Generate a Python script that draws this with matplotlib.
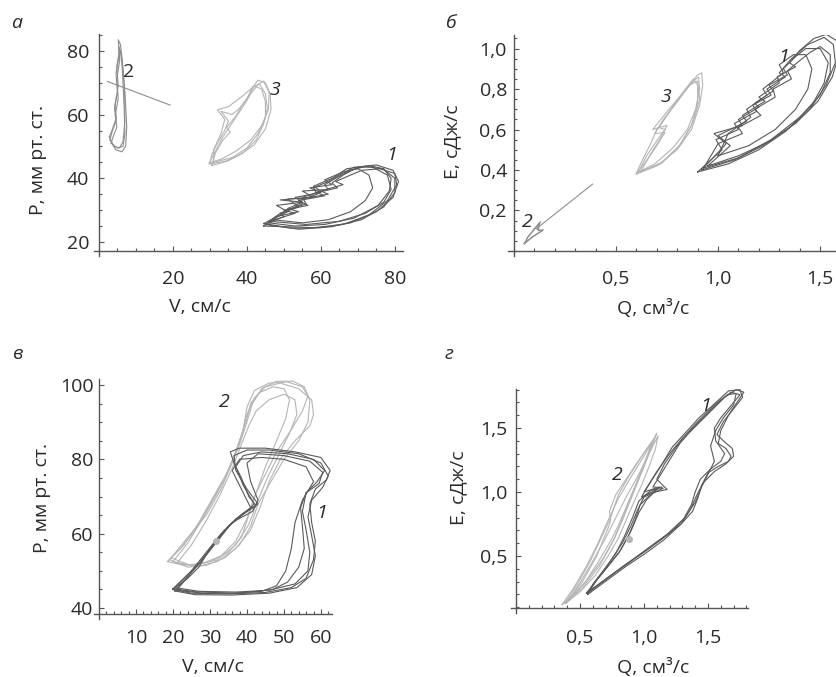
import matplotlib
matplotlib.use("Agg")
import matplotlib.pyplot as plt
from matplotlib.ticker import FixedLocator, MultipleLocator

plt.rcParams['font.family'] = ['Open Sans', 'DejaVu Sans']

W, H = 837, 677
DARK = '#5a5a5a'
LIGHT = '#b5b5b5'
MID = '#8e8e8e'
AXC = '#555555'
TXT = '#2a2a2a'
FS = 14

# ---- panel a: P(V) ----
a1_v = [[45, 52, 60, 68, 75, 79.5, 81, 79.5, 75, 70, 66, 63, 64.5, 59, 61, 54, 56.5, 50, 53, 47.5, 45],
        [46, 53, 61, 69, 75.5, 78.5, 79, 77, 73, 68, 64, 61, 62, 55, 58, 51, 54, 49, 50, 46],
        [44.5, 54, 63, 71, 77, 80, 80, 77, 72, 67, 65, 61, 63, 57, 60, 53, 55, 48, 51, 44.5],
        [47, 55, 62, 68, 72, 74, 73, 70, 66, 63, 58, 60, 55, 56, 51, 47],
        [46, 56, 65, 72, 77, 79, 78, 74, 69, 65, 62, 58, 59, 54, 55, 49, 46],
        [44.5, 50, 58, 66, 73, 78, 80.5, 80, 76, 71, 67, 64, 66, 60, 62, 57, 49, 55, 51, 54, 48, 44.5]]
a1_p = [[25.5, 24.3, 24.5, 26, 29.5, 34, 39, 42.5, 44.2, 43.5, 41, 38.5, 37, 35.5, 34.5, 33, 31.5, 30, 29, 27, 25.5],
        [26, 25, 25.5, 27.5, 31.5, 36, 40, 43, 44, 42.5, 40, 38, 36.5, 36, 34, 33.5, 31, 29, 28, 26],
        [25.8, 24, 24.8, 27, 31, 35.5, 40, 42.8, 43.8, 43, 41.5, 39.5, 38, 37, 35.5, 34, 32.5, 31.5, 29.5, 25.8],
        [27, 26, 27, 29.5, 33, 37, 41, 43, 42, 40, 37.5, 36, 34, 32, 30, 27],
        [26.5, 25.5, 26.5, 29, 32.5, 36.5, 41, 43.5, 43.5, 41, 39, 37, 35, 33, 32, 29, 26.5],
        [25, 24.8, 24.5, 25.5, 28.5, 33, 38, 41.5, 43, 42.5, 40.5, 39, 38, 36, 35, 34, 33.2, 32.5, 30.5, 29.5, 28, 25]]

a3_v = [[30, 34, 38, 42, 45, 46.5, 46.3, 45, 43, 41.5, 40, 38, 36, 33, 35, 34, 32, 30.5, 30],
        [30.5, 35, 39, 42.5, 44.5, 45.5, 45, 43.5, 42, 40.5, 38.5, 37, 34.5, 35.5, 33.5, 31.5, 30.5],
        [29.8, 33, 37, 41, 44, 45.8, 46, 44.5, 43, 41, 39.5, 37.5, 35.5, 33.5, 31.5, 29.8],
        [31, 36, 40, 43, 45, 45, 44, 42, 39, 35, 32, 34, 33, 31, 31]]
a3_p = [[44.5, 45.3, 47.3, 50.5, 55.5, 61.5, 66.5, 70, 70.8, 68.5, 65, 62, 60, 61, 58, 55, 51, 47.5, 44.5],
        [44, 45.5, 48, 52, 57, 62, 66.5, 69.5, 69, 66, 62.5, 59.5, 56, 54.5, 52, 48, 44],
        [44.8, 46, 48.5, 52, 56.5, 61.5, 67, 70.5, 69.5, 66.5, 63.5, 60, 56.5, 53, 48.5, 44.8],
        [45, 46.5, 49.5, 54, 59, 64, 68, 69, 66, 62.5, 61.5, 58.5, 54, 49, 45]]

a2_v = [[3, 4.5, 6.2, 7.2, 7.5, 7.2, 6.8, 6.3, 5.8, 5.2, 5.5, 4.6, 5.0, 4.2, 4.6, 3.5, 3],
        [3.3, 5, 6.5, 7, 6.8, 6.5, 6.2, 5.8, 5.3, 5.6, 4.8, 5.2, 4.4, 4.8, 3.8, 3.3],
        [2.8, 4, 5.5, 6.5, 7, 7, 6.5, 6, 5.5, 4.8, 5.2, 4.3, 4.7, 3.5, 2.8]]
a2_p = [[52, 49, 48.3, 50, 56, 63, 70, 77, 82, 83.5, 79, 73, 67, 62, 58, 54.5, 52],
        [51, 49.5, 50, 54, 62, 70, 76, 80, 81.5, 77, 71, 65, 60, 56, 53, 51],
        [53, 50, 49.5, 51.5, 58, 66, 74, 79, 80, 75, 69, 63, 59, 55, 53]]
a2_line_v = [2.3, 19.2]
a2_line_p = [70.4, 63.0]

# ---- panel b: E(Q) ----
b1_q = [[0.9, 1.05, 1.2, 1.33, 1.45, 1.53, 1.575, 1.565, 1.52, 1.44, 1.36, 1.3, 1.33, 1.24, 1.26, 1.17, 1.19, 1.08, 1.1, 0.99, 1.02, 0.9],
        [0.92, 1.08, 1.22, 1.35, 1.46, 1.52, 1.54, 1.5, 1.43, 1.38, 1.32, 1.34, 1.25, 1.27, 1.18, 1.2, 1.1, 1.12, 0.98, 1.04, 0.92],
        [0.95, 1.1, 1.25, 1.38, 1.49, 1.56, 1.59, 1.58, 1.53, 1.47, 1.4, 1.35, 1.38, 1.29, 1.3, 1.2, 1.23, 1.12, 1.14, 1.0, 1.06, 0.95],
        [1.0, 1.15, 1.28, 1.38, 1.44, 1.46, 1.43, 1.37, 1.3, 1.32, 1.22, 1.24, 1.14, 1.16, 1.05, 1.0],
        [0.93, 1.1, 1.26, 1.4, 1.5, 1.55, 1.55, 1.5, 1.45, 1.4, 1.34, 1.36, 1.27, 1.28, 1.18, 1.21, 1.1, 1.12, 1.0, 0.93]]
b1_e = [[0.39, 0.43, 0.5, 0.59, 0.7, 0.82, 0.93, 1.02, 1.055, 1.02, 0.95, 0.88, 0.86, 0.8, 0.77, 0.72, 0.69, 0.63, 0.6, 0.55, 0.5, 0.39],
        [0.4, 0.45, 0.52, 0.61, 0.72, 0.83, 0.93, 1.0, 1.0, 0.96, 0.9, 0.87, 0.82, 0.79, 0.73, 0.71, 0.65, 0.62, 0.58, 0.53, 0.4],
        [0.42, 0.47, 0.54, 0.63, 0.74, 0.86, 0.96, 1.04, 1.07, 1.05, 0.99, 0.93, 0.91, 0.86, 0.83, 0.76, 0.74, 0.67, 0.64, 0.57, 0.52, 0.42],
        [0.47, 0.52, 0.6, 0.7, 0.8, 0.9, 0.97, 0.97, 0.92, 0.88, 0.8, 0.77, 0.7, 0.66, 0.58, 0.47],
        [0.41, 0.46, 0.55, 0.66, 0.77, 0.88, 0.97, 1.01, 0.98, 0.94, 0.89, 0.85, 0.8, 0.76, 0.7, 0.67, 0.61, 0.58, 0.53, 0.41]]

b3_q = [[0.6, 0.7, 0.8, 0.87, 0.91, 0.925, 0.92, 0.9, 0.86, 0.81, 0.77, 0.73, 0.69, 0.74, 0.7, 0.66, 0.6],
        [0.61, 0.72, 0.81, 0.87, 0.9, 0.9, 0.88, 0.84, 0.79, 0.75, 0.71, 0.74, 0.69, 0.65, 0.61],
        [0.6, 0.69, 0.78, 0.85, 0.89, 0.91, 0.905, 0.88, 0.83, 0.78, 0.74, 0.7, 0.67, 0.63, 0.6],
        [0.62, 0.73, 0.82, 0.88, 0.91, 0.9, 0.86, 0.81, 0.76, 0.68, 0.75, 0.72, 0.67, 0.62]]
b3_e = [[0.38, 0.42, 0.5, 0.6, 0.72, 0.82, 0.88, 0.87, 0.82, 0.75, 0.7, 0.64, 0.58, 0.585, 0.52, 0.46, 0.38],
        [0.39, 0.43, 0.52, 0.62, 0.73, 0.82, 0.85, 0.8, 0.73, 0.67, 0.61, 0.6, 0.53, 0.47, 0.39],
        [0.385, 0.43, 0.51, 0.6, 0.7, 0.8, 0.86, 0.84, 0.78, 0.71, 0.66, 0.6, 0.53, 0.45, 0.385],
        [0.39, 0.44, 0.53, 0.64, 0.75, 0.84, 0.82, 0.76, 0.7, 0.6, 0.62, 0.56, 0.48, 0.39]]

b2_q = [[0.05, 0.09, 0.14, 0.115, 0.13, 0.1, 0.07, 0.05],
        [0.055, 0.1, 0.145, 0.12, 0.125, 0.095, 0.065, 0.055]]
b2_e = [[0.035, 0.07, 0.1, 0.105, 0.145, 0.11, 0.07, 0.035],
        [0.04, 0.075, 0.105, 0.1, 0.135, 0.1, 0.065, 0.04]]
b2_line_q = [0.11, 0.385]
b2_line_e = [0.11, 0.33]

# ---- panel v: P(V) ----
c1_v = [[20, 25, 35, 45, 52, 56, 58, 58.5, 57.5, 57, 58.5, 61.5, 62.5, 60, 53, 45, 38, 35.5, 36.5, 38.5, 40.5, 42.5, 38.5, 34, 30, 27, 24, 20],
        [20.5, 27, 37, 46, 53, 56.5, 57, 56, 55, 56, 59, 61, 58, 51, 44, 39, 37, 39, 42, 40, 35, 31, 27, 23, 20.5],
        [21, 28, 38, 47, 51, 54, 55.5, 55, 54.5, 56, 59.5, 60.5, 57, 50, 43, 40, 41, 43, 41.5, 36, 32, 28, 24.5, 21],
        [20, 26, 36, 44, 48, 50.5, 52, 53, 55, 58, 56, 50, 44, 38, 36, 38.5, 41, 37, 33, 29, 25, 20],
        [20.5, 26, 36, 46, 53.5, 57.5, 58.5, 57.5, 56.5, 57.5, 60.5, 62, 60, 54, 46, 40, 36.5, 37, 40, 43, 39, 35, 31, 27.5, 24, 20.5]]
c1_p = [[45, 44, 43.8, 44.2, 45.5, 48, 53, 58, 63, 68, 72, 74.5, 77, 80.5, 82, 83, 83, 82, 79, 75, 70, 67.5, 65, 61, 56, 51, 48, 45],
        [45.5, 44.5, 44.3, 44.8, 46.5, 50, 55, 61, 66, 71, 74, 77, 80, 81.5, 82, 81, 78, 73, 68, 66, 62, 57, 52, 48, 45.5],
        [44.8, 44, 44, 45, 47, 51, 56, 62, 67, 71, 73.5, 76.5, 79.5, 81, 81.5, 79, 74, 69, 66, 63, 58, 53, 49, 44.8],
        [45.2, 44.4, 44, 44.5, 46, 50, 56, 63, 69, 74, 78, 80, 80.5, 80, 77, 72, 67, 64, 60, 55, 50, 45.2],
        [44.6, 43.6, 43.5, 44, 45.5, 49, 54, 59.5, 64.5, 69, 72.5, 75.5, 79, 81.5, 82.5, 82.5, 81, 77, 72, 68, 65.5, 62, 57, 52.5, 48.5, 44.6]]

c2_v = [[18.5, 22, 26, 30, 34, 37, 39, 40, 42, 46, 51, 55, 56.5, 55, 52, 48, 45, 42, 40, 37, 33, 28, 23, 18.5],
        [19, 23, 27, 31, 35, 38, 40, 41.5, 44, 48, 52.5, 55.5, 57, 56.5, 54, 50, 46.5, 43, 41, 38, 34, 29, 24, 19],
        [20, 24, 28, 32, 35.5, 38, 40, 41, 43.5, 47, 50, 51.5, 50.5, 48, 45, 42.5, 40.5, 38.5, 35, 30, 25, 20],
        [19.5, 24, 29, 33, 36, 38.5, 40, 42, 45, 49, 54, 57.5, 58, 57, 53, 49, 46, 43.5, 41, 37, 32, 26, 19.5],
        [21, 25, 29, 32.5, 36, 38.5, 40.5, 42.5, 46, 50, 53, 53.5, 51.5, 48.5, 45.5, 43, 40.5, 37, 32, 26, 21]]
c2_p = [[52.5, 56, 61, 68, 75, 82, 88, 94, 98.5, 100.5, 100.8, 99.5, 97, 93, 88, 82, 76, 70, 64, 58, 54, 52, 51.5, 52.5],
        [53, 57, 63, 70, 77, 84, 90, 95, 99, 101, 101, 99.5, 96, 90, 85, 80, 74, 68, 62, 57, 53.5, 51.5, 51, 53],
        [52.5, 57.5, 64, 71, 78, 85, 91, 95, 98, 99.5, 99, 96, 91, 85, 78, 71, 65, 59, 55, 52.5, 51.5, 52.5],
        [53.5, 59, 65, 72, 79, 86, 92, 96.5, 99.5, 100.5, 99, 96, 92, 89, 85, 80, 74, 67, 61, 56, 52.5, 51, 53.5],
        [52, 57, 63.5, 70, 77.5, 84, 89, 93, 96, 97.5, 96, 92, 87, 81, 75, 69, 62.5, 57, 53, 51.5, 52]]
c_dot = (31.6, 58.0)

# ---- panel g: E(Q) ----
d1_q = [[0.55, 0.7, 0.85, 1.0, 1.15, 1.3, 1.38, 1.42, 1.45, 1.5, 1.58, 1.66, 1.68, 1.64, 1.58, 1.6, 1.66, 1.74, 1.78, 1.72, 1.6, 1.48, 1.38, 1.28, 1.2, 1.12, 1.07, 1.15, 1.05, 0.97, 0.93, 0.88, 0.8, 0.7, 0.62, 0.55],
        [0.56, 0.72, 0.88, 1.03, 1.18, 1.31, 1.37, 1.4, 1.44, 1.52, 1.6, 1.63, 1.56, 1.55, 1.6, 1.7, 1.75, 1.68, 1.55, 1.42, 1.3, 1.2, 1.1, 1.0, 1.12, 1.02, 0.96, 0.9, 0.82, 0.72, 0.63, 0.56],
        [0.57, 0.73, 0.9, 1.05, 1.2, 1.32, 1.4, 1.45, 1.5, 1.55, 1.52, 1.56, 1.62, 1.7, 1.72, 1.65, 1.55, 1.45, 1.35, 1.25, 1.16, 1.1, 1.18, 1.08, 1.0, 0.95, 0.9, 0.83, 0.73, 0.64, 0.57],
        [0.56, 0.71, 0.86, 1.01, 1.16, 1.29, 1.36, 1.41, 1.46, 1.55, 1.64, 1.7, 1.69, 1.62, 1.57, 1.62, 1.7, 1.77, 1.75, 1.66, 1.54, 1.43, 1.33, 1.22, 1.13, 1.04, 0.98, 1.14, 1.05, 0.96, 0.91, 0.85, 0.78, 0.68, 0.6, 0.56]]
d1_e = [[0.21, 0.32, 0.43, 0.53, 0.64, 0.76, 0.85, 0.95, 1.05, 1.15, 1.2, 1.24, 1.28, 1.34, 1.38, 1.48, 1.6, 1.72, 1.78, 1.8, 1.72, 1.6, 1.5, 1.38, 1.25, 1.12, 1.04, 1.03, 0.98, 0.9, 0.78, 0.66, 0.52, 0.4, 0.3, 0.21],
        [0.21, 0.33, 0.45, 0.56, 0.67, 0.79, 0.9, 1.0, 1.1, 1.18, 1.24, 1.3, 1.4, 1.5, 1.58, 1.7, 1.76, 1.78, 1.68, 1.55, 1.42, 1.3, 1.16, 1.0, 1.04, 0.94, 0.84, 0.7, 0.55, 0.42, 0.31, 0.21],
        [0.22, 0.34, 0.46, 0.57, 0.68, 0.8, 0.92, 1.04, 1.14, 1.24, 1.36, 1.48, 1.58, 1.68, 1.77, 1.76, 1.66, 1.56, 1.46, 1.35, 1.22, 1.1, 1.02, 1.0, 0.96, 0.86, 0.74, 0.6, 0.45, 0.33, 0.22],
        [0.2, 0.31, 0.42, 0.52, 0.63, 0.75, 0.86, 0.97, 1.07, 1.16, 1.22, 1.28, 1.34, 1.4, 1.45, 1.55, 1.65, 1.74, 1.8, 1.79, 1.68, 1.58, 1.47, 1.35, 1.2, 1.06, 0.96, 1.04, 1.01, 0.93, 0.8, 0.66, 0.52, 0.38, 0.28, 0.2]]

d2_q = [[0.36, 0.45, 0.55, 0.64, 0.72, 0.8, 0.9, 1.0, 1.08, 1.1, 1.07, 1.02, 0.96, 0.9, 0.84, 0.77, 0.68, 0.56, 0.45, 0.36],
        [0.38, 0.48, 0.58, 0.67, 0.74, 0.76, 0.8, 0.88, 0.97, 1.05, 1.08, 1.05, 1.0, 0.93, 0.87, 0.82, 0.75, 0.65, 0.52, 0.38],
        [0.4, 0.5, 0.6, 0.7, 0.78, 0.86, 0.95, 1.03, 1.09, 1.11, 1.09, 1.04, 0.98, 0.92, 0.86, 0.8, 0.72, 0.62, 0.5, 0.4],
        [0.39, 0.52, 0.63, 0.72, 0.74, 0.73, 0.78, 0.86, 0.94, 1.01, 1.06, 1.03, 0.98, 0.92, 0.86, 0.8, 0.74, 0.64, 0.53, 0.39]]
d2_e = [[0.12, 0.25, 0.42, 0.6, 0.78, 0.95, 1.12, 1.28, 1.42, 1.46, 1.38, 1.25, 1.1, 0.95, 0.8, 0.64, 0.48, 0.32, 0.2, 0.12],
        [0.13, 0.28, 0.46, 0.65, 0.8, 0.86, 0.98, 1.12, 1.26, 1.38, 1.42, 1.34, 1.2, 1.04, 0.9, 0.76, 0.6, 0.42, 0.25, 0.13],
        [0.14, 0.29, 0.46, 0.64, 0.8, 0.96, 1.12, 1.28, 1.4, 1.44, 1.34, 1.2, 1.05, 0.92, 0.78, 0.64, 0.5, 0.35, 0.22, 0.14],
        [0.13, 0.3, 0.5, 0.72, 0.78, 0.85, 0.98, 1.1, 1.22, 1.32, 1.38, 1.3, 1.17, 1.02, 0.88, 0.74, 0.62, 0.45, 0.28, 0.13]]
d_dot = (0.88, 0.63)


fig = plt.figure(figsize=(W / 100, H / 100), dpi=100)


def px_axes(left, top, right, bottom):
    return fig.add_axes([left / W, 1 - bottom / H, (right - left) / W, (bottom - top) / H])


def ftext(x, y, s, **kw):
    fig.text(x / W, 1 - y / H, s, ha='center', va='center', color=TXT, fontsize=FS, **kw)


def style(ax, xlim, ylim, x0, y0, xt, xl, xminor, yt, yl, yminor, xpad, ypad):
    ax.set_xlim(xlim)
    ax.set_ylim(ylim)
    ax.patch.set_alpha(0)
    for s in ['top', 'right']:
        ax.spines[s].set_visible(False)
    ax.spines['left'].set_position(('data', x0))
    ax.spines['bottom'].set_position(('data', y0))
    for s in ['left', 'bottom']:
        ax.spines[s].set_color(AXC)
        ax.spines[s].set_linewidth(1.0)
    ax.xaxis.set_major_locator(FixedLocator(xt))
    ax.set_xticklabels(xl)
    ax.yaxis.set_major_locator(FixedLocator(yt))
    ax.set_yticklabels(yl)
    ax.xaxis.set_minor_locator(MultipleLocator(xminor))
    ax.yaxis.set_minor_locator(MultipleLocator(yminor))
    ax.tick_params(which='both', direction='in', color=AXC, width=0.8, labelsize=FS, labelcolor=TXT)
    ax.tick_params(which='major', length=3.5)
    ax.tick_params(which='minor', length=2.5)
    ax.tick_params(axis='x', which='major', pad=xpad)
    ax.tick_params(axis='y', which='major', pad=ypad)


def loops(ax, xs, ys, color, lw=0.8):
    for x, y in zip(xs, ys):
        ax.plot(x, y, color=color, lw=lw)


def label(ax, x, y, s, italic=True):
    ax.text(x, y, s, fontsize=FS, color=TXT, ha='center', va='center',
            style='italic' if italic else 'normal')


# panel a
ax = px_axes(94, 34, 403, 256)
loops(ax, a1_v, a1_p, DARK)
loops(ax, a3_v, a3_p, LIGHT)
loops(ax, a2_v, a2_p, MID)
ax.plot(a2_line_v, a2_line_p, color=MID, lw=0.8)
style(ax, (-1.35, 82.2), (15.6, 85.3), 0, 17.2,
      [20, 40, 60, 80], ['20', '40', '60', '80'], 5,
      [20, 40, 60, 80], ['20', '40', '60', '80'], 5, 14, 7)
label(ax, 7.9, 73.4, '2', italic=False)
label(ax, 47.6, 67.8, '3')
label(ax, 79, 47.3, '1')

# panel b
ax = px_axes(508, 35, 837, 256)
loops(ax, b1_q, b1_e, DARK)
loops(ax, b3_q, b3_e, LIGHT)
loops(ax, b2_q, b2_e, MID)
ax.plot(b2_line_q, b2_line_e, color=MID, lw=0.8)
style(ax, (-0.029, 1.583), (-0.025, 1.067), 0, 0,
      [0.5, 1.0, 1.5], ['0,5', '1,0', '1,5'], 0.1,
      [0.2, 0.4, 0.6, 0.8, 1.0], ['0,2', '0,4', '0,6', '0,8', '1,0'], 0.05, 14, 5)
label(ax, 1.32, 0.96, '1')
label(ax, 0.745, 0.76, '3')
label(ax, 0.067, 0.145, '2')

# panel v
ax = px_axes(94, 379, 332, 619)
loops(ax, c2_v, c2_p, LIGHT)
loops(ax, c1_v, c1_p, DARK)
ax.plot(*c_dot, 'o', color=LIGHT, ms=4)
style(ax, (-1.35, 63.0), (37.06, 101.6), 0, 38.4,
      [10, 20, 30, 40, 50, 60], ['10', '20', '30', '40', '50', '60'], 2,
      [40, 60, 80, 100], ['40', '60', '80', '100'], 5, 11, 4)
label(ax, 33.9, 95.5, '2')
label(ax, 60.2, 65.5, '1')

# panel g
ax = px_axes(511, 389, 748, 613)
loops(ax, d2_q, d2_e, LIGHT)
loops(ax, d1_q, d1_e, DARK)
ax.plot(*d_dot, 'o', color=LIGHT, ms=4)
style(ax, (-0.039, 1.8125), (0.055, 1.805), 0, 0.094,
      [0.5, 1.0, 1.5], ['0,5', '1,0', '1,5'], 0.1,
      [0.5, 1.0, 1.5], ['0,5', '1,0', '1,5'], 0.1, 15, 6)
label(ax, 1.48, 1.67, '1')
label(ax, 0.79, 1.13, '2')

# axis titles and panel letters
ftext(200, 307, 'V, см/с')
ftext(38, 160, 'P, мм рт. ст.', rotation=90)
ftext(653, 309, 'Q, см³/с')
ftext(452, 142, 'E, сДж/с', rotation=90)
ftext(213, 667, 'V, см/с')
ftext(42, 498, 'P, мм рт. ст.', rotation=90)
ftext(653, 667, 'Q, см³/с')
ftext(458, 488, 'E, сДж/с', rotation=90)
ftext(17, 23, 'а', style='italic')
ftext(450, 23, 'б', style='italic')
ftext(17, 354, 'в', style='italic')
ftext(449, 354, 'г', style='italic')

fig.savefig('out.png', dpi=100)
